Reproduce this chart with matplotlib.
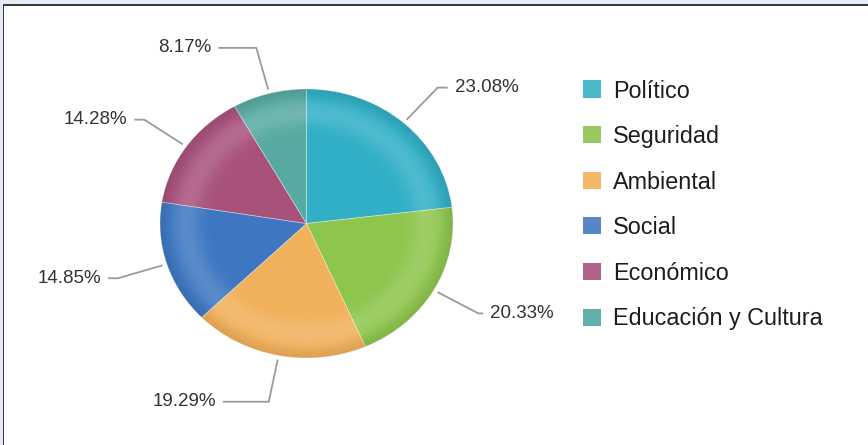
import numpy as np
import matplotlib

matplotlib.use("Agg")
import matplotlib.pyplot as plt
from matplotlib.patches import Circle, Rectangle


categories = ["Político", "Seguridad", "Ambiental", "Social", "Económico", "Educación y Cultura"]
shares = [23.08, 20.33, 19.29, 14.85, 14.28, 8.17]
pie_colors = ["#30afc6", "#8ec54d", "#f1b05a", "#3d77c2", "#a8517b", "#57aaa1"]
legend_colors = ["#4cb8cb", "#98c95c", "#f2b766", "#5686c6", "#b06387", "#62b1a9"]

# horizontal run of each leader line after its elbow, in pixels
label_runs = [10, 5, 46, 10, 10, 38]

W, H = 868, 445
fig = plt.figure(figsize=(W / 100, H / 100), dpi=100)
fig.patch.set_facecolor("white")
plt.rcParams["font.family"] = ["Liberation Sans", "DejaVu Sans"]

# pie occupies a 293 x 269 px box, so it is slightly oval
px_l, px_t, px_w, px_h = 160, 89, 293, 269
ax = fig.add_axes([px_l / W, 1 - (px_t + px_h) / H, px_w / W, px_h / H])
sx, sy = px_w / 2, px_h / 2  # pixels per data unit

wedges, _ = ax.pie(
    shares,
    colors=pie_colors,
    startangle=90,
    counterclock=False,
    radius=1,
    wedgeprops=dict(edgecolor=(1, 1, 1, 0.4), linewidth=0.6),
)
ax.set_aspect("auto")
ax.set_xlim(-1, 1)
ax.set_ylim(-1, 1)
ax.axis("off")

# radial shading: soft light ring near the rim, darker right at the edge
g = np.linspace(-1, 1, 500)
gx, gy = np.meshgrid(g, g)
rr = np.hypot(gx, gy)
light = np.zeros((500, 500, 4))
light[..., :3] = 1.0
light[..., 3] = 0.15 * np.exp(-((rr - 0.82) / 0.1) ** 2)
dark = np.zeros((500, 500, 4))
dark[..., 3] = np.clip((rr - 0.9) / 0.1, 0, 1) * 0.09
clip = Circle((0, 0), 1, transform=ax.transData)
for layer in (light, dark):
    im = ax.imshow(layer, extent=(-1, 1, -1, 1), origin="lower", aspect="auto", zorder=3)
    im.set_clip_path(clip)

# leader lines and percentage labels
theta = 90.0
for share, run in zip(shares, label_runs):
    span = share / 100 * 360
    mid = np.deg2rad(theta - span / 2)
    theta -= span
    c, s = np.cos(mid), np.sin(mid)
    x0, y0 = 1.03 * c, 1.03 * s
    xe, ye = 1.35 * c, 1.35 * s
    side = 1 if c >= 0 else -1
    xh = xe + side * run / sx
    ax.plot([x0, xe, xh], [y0, ye, ye], color="#9a9a9a", lw=1.3,
            clip_on=False, zorder=4, solid_capstyle="butt")
    ax.text(xh + side * 7 / sx, ye, f"{share:.2f}%", fontsize=13.5, color="#333333",
            ha="left" if side > 0 else "right", va="center", clip_on=False)

# legend
row0, row_step = 89, 45.6
for i, (name, col) in enumerate(zip(categories, legend_colors)):
    yc = row0 + i * row_step
    fig.add_artist(Rectangle((583 / W, 1 - (yc + 8.5) / H), 18 / W, 17 / H,
                             transform=fig.transFigure, facecolor=col, edgecolor="none"))
    fig.text(613 / W, 1 - (yc + 2) / H, name, fontsize=16.8, color="#1c1c1c",
             ha="left", va="center")

# frame strips along the top and left edge
fig.add_artist(Rectangle((0, 1 - 4 / H), 1, 4 / H, transform=fig.transFigure,
                         facecolor="#e4ebf7", edgecolor="none"))
fig.add_artist(Rectangle((0, 1 - 5.5 / H), 1, 1.6 / H, transform=fig.transFigure,
                         facecolor="#3b3b3b", edgecolor="none"))
fig.add_artist(Rectangle((0, 0), 2.5 / W, 1, transform=fig.transFigure,
                         facecolor="#e4ebf7", edgecolor="none"))
fig.add_artist(Rectangle((2.5 / W, 0), 1.6 / W, 1 - 4 / H, transform=fig.transFigure,
                         facecolor="#3b3b3b", edgecolor="none"))

fig.savefig("out.png", dpi=100)
